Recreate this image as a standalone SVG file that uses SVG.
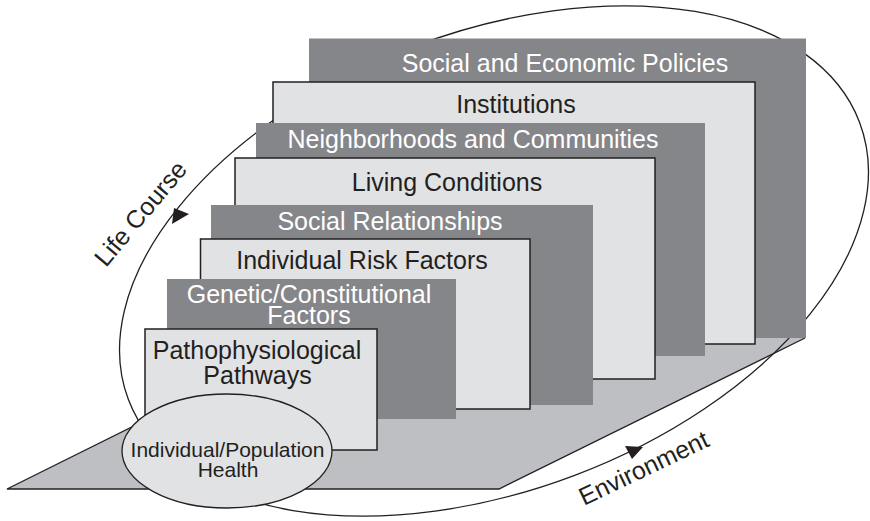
<svg xmlns="http://www.w3.org/2000/svg" width="870" height="521" viewBox="0 0 870 521">
<style>
.dark{fill:#85868a;stroke:none}
.light{fill:#e1e2e4;stroke:#231f20;stroke-width:1.5}
.lbl{font-family:"Liberation Sans",Arial,sans-serif;font-size:25px;text-anchor:middle}
.sm{font-size:21px}
.w{fill:#ffffff}
.b{fill:#231f20}
.line{fill:none;stroke:#231f20;stroke-width:1.3}
</style>
<rect width="870" height="521" fill="#ffffff"/>
<g id="floor">
<polygon points="7,489 311,338 805,338 499,489" fill="#bebfc3"/>
<polyline class="line" points="311,338 7,489 499,489 805,338" stroke-width="1.6"/>
</g>
<g id="connectors">
<ellipse class="line" cx="494" cy="261" rx="391" ry="229" transform="rotate(-20.8 494 261)"/>
<polygon points="174,208 189,214 172,224" fill="#231f20"/>
<polygon points="625,446 643,447 632,459" fill="#231f20"/>
</g>
<g id="policies"><rect class="dark" x="309" y="38.5" width="497" height="299.5"/><text class="lbl w" x="565" y="72">Social and Economic Policies</text></g>
<g id="institutions"><rect class="light" x="273" y="82" width="482" height="262"/><text class="lbl b" x="516" y="113">Institutions</text></g>
<g id="neighborhoods"><rect class="dark" x="256" y="123" width="449" height="233"/><text class="lbl w" x="473" y="148">Neighborhoods and Communities</text></g>
<g id="living"><rect class="light" x="235" y="158" width="420" height="221"/><text class="lbl b" x="447" y="190.5">Living Conditions</text></g>
<g id="relationships"><rect class="dark" x="211" y="205" width="382" height="200"/><text class="lbl w" x="390" y="230">Social Relationships</text></g>
<g id="risk"><rect class="light" x="200.5" y="239" width="329.5" height="170"/><text class="lbl b" x="362" y="269">Individual Risk Factors</text></g>
<g id="genetic"><rect class="dark" x="167" y="279" width="289" height="140"/><text class="lbl w" x="309" y="302.7">Genetic/Constitutional</text><text class="lbl w" x="309" y="324.3">Factors</text></g>
<g id="pathways"><rect class="light" x="145" y="329" width="232" height="121"/><text class="lbl b" x="257" y="358.5">Pathophysiological</text><text class="lbl b" x="257.5" y="383.5">Pathways</text></g>
<g id="health"><ellipse cx="227" cy="451" rx="105" ry="57" fill="#e1e2e4" stroke="#231f20" stroke-width="1.3"/><text class="lbl sm b" x="227.5" y="456.5">Individual/Population</text><text class="lbl sm b" x="228" y="476.5">Health</text></g>
<g id="labels">
<text class="lbl b" style="text-anchor:start" transform="translate(106,268) rotate(-50)">Life Course</text>
<text class="lbl b" style="text-anchor:start" transform="translate(584,506) rotate(-25.5)">Environment</text>
</g>
</svg>
